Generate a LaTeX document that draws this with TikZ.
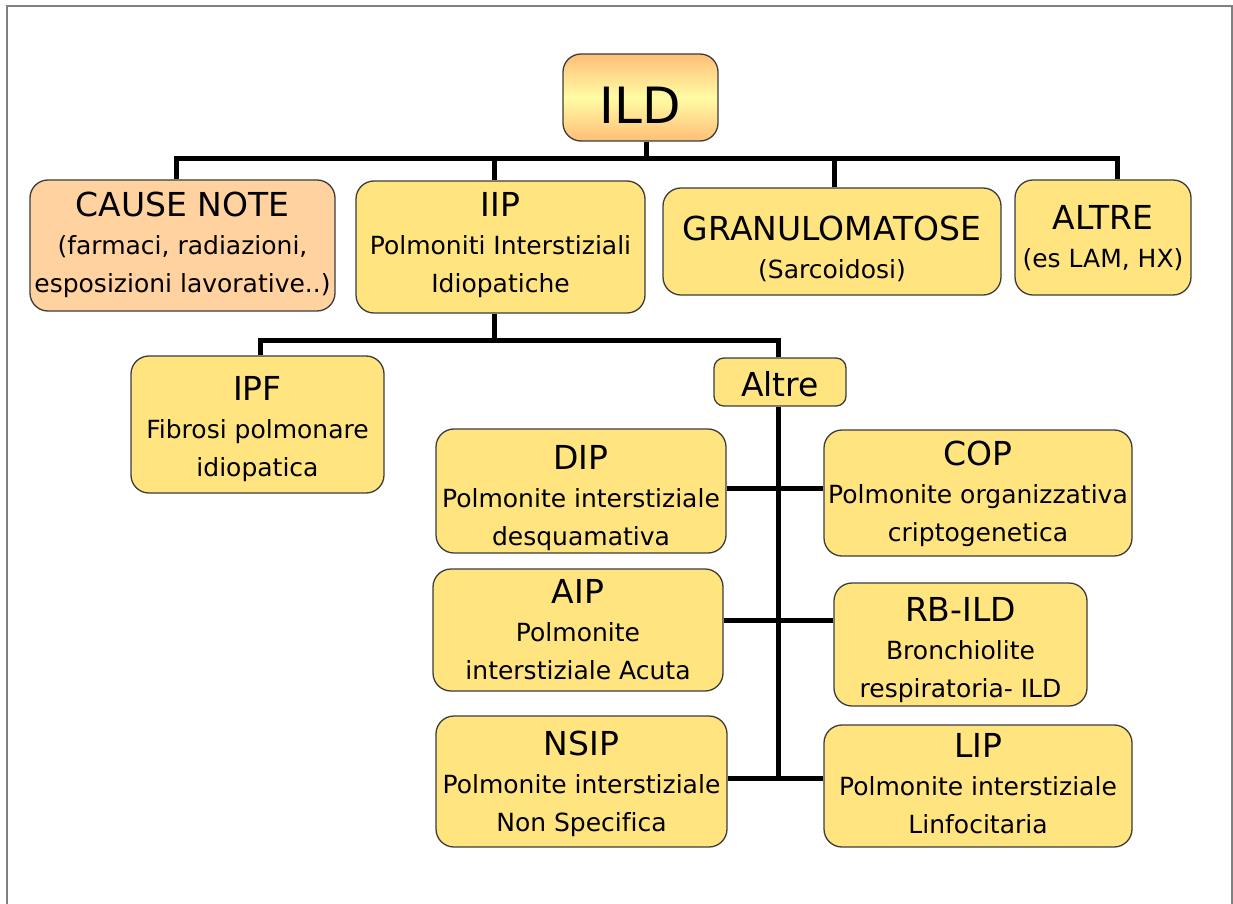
\documentclass[tikz,border=0pt]{standalone}
\usepackage{fontspec}
\setmainfont{DejaVu Sans}[Ligatures=NoCommon]
\definecolor{yel}{RGB}{255,228,128}
\definecolor{peach}{RGB}{255,210,160}
\definecolor{ildorange}{RGB}{255,190,120}
\definecolor{ildyellow}{RGB}{255,252,165}
\definecolor{boxline}{RGB}{60,60,60}
\definecolor{framegray}{RGB}{128,128,128}
\newcommand\boxtitle[1]{{\fontsize{33}{38}\selectfont #1}}
\newcommand\bxt[2]{\raisebox{-#1pt}[\height][\depth]{\fontsize{25}{38}\selectfont\begin{tabular}{@{}c@{}}#2\end{tabular}}}
\begin{document}
\begin{tikzpicture}[x=1pt,y=-1pt,
  box/.style={draw=boxline, line width=1.3pt, rounded corners=18pt, fill=yel, inner sep=0pt},
  conn/.style={line width=5pt, black},
  framestyle/.style={draw=framegray, line width=2pt}]
\useasboundingbox (0,0) rectangle (1233,904);
\draw[framestyle] (7,904) -- (7,6) -- (1232,6) -- (1232,904);

% top level
\node[box, top color=ildorange, bottom color=ildorange, middle color=ildyellow,
      minimum width=155pt, minimum height=87pt, font=\fontsize{50}{50}\selectfont]
      (ild) at (640.5,97.5) {\raisebox{-8pt}[\height][\depth]{ILD}};
\node[box, fill=peach, minimum width=305pt, minimum height=131pt] (cause) at (182.5,245.5)
  {\bxt{1}{\boxtitle{CAUSE NOTE}\\(farmaci, radiazioni,\\esposizioni lavorative..)}};
\node[box, minimum width=289pt, minimum height=132pt] (iip) at (500.5,247)
  {\bxt{0}{\boxtitle{IIP}\\Polmoniti Interstiziali\\Idiopatiche}};
\node[box, minimum width=338pt, minimum height=107pt] (gran) at (832,241.5)
  {\bxt{10}{\boxtitle{GRANULOMATOSE}\\(Sarcoidosi)}};
\node[box, minimum width=176pt, minimum height=115pt] (altre) at (1103,237.5)
  {\bxt{3}{\boxtitle{ALTRE}\\(es LAM, HX)}};

% second level
\node[box, minimum width=253pt, minimum height=137pt] (ipf) at (257.5,424.5)
  {\bxt{6}{\boxtitle{IPF}\\Fibrosi polmonare\\idiopatica}};
\node[box, rounded corners=10pt, minimum width=132pt, minimum height=48pt, font=\fontsize{33}{38}\selectfont]
  (altreb) at (780,382) {\raisebox{-2pt}[\height][\depth]{Altre}};

% third level
\node[box, minimum width=290pt, minimum height=124pt] (dip) at (581,491)
  {\bxt{9}{\boxtitle{DIP}\\Polmonite interstiziale\\desquamativa}};
\node[box, minimum width=308pt, minimum height=126pt] (cop) at (978,493)
  {\bxt{3}{\boxtitle{COP}\\Polmonite organizzativa\\criptogenetica}};
\node[box, minimum width=290pt, minimum height=122pt] (aip) at (578,630)
  {\bxt{4}{\boxtitle{AIP}\\Polmonite\\interstiziale Acuta}};
\node[box, minimum width=253pt, minimum height=123pt] (rbild) at (960.5,644.5)
  {\bxt{7}{\boxtitle{RB-ILD}\\Bronchiolite\\respiratoria- ILD}};
\node[box, minimum width=291pt, minimum height=131pt] (nsip) at (581.5,781.5)
  {\bxt{4}{\boxtitle{NSIP}\\Polmonite interstiziale\\Non Specifica}};
\node[box, minimum width=308pt, minimum height=122pt] (lip) at (978,786)
  {\bxt{2}{\boxtitle{LIP}\\Polmonite interstiziale\\Linfocitaria}};

% connectors
\coordinate (bus) at (646,159);
\coordinate (bus2) at (494,340);
\coordinate (spineEnd) at (778,778);
\draw[conn] ([xshift=5.5pt]ild.south) |- (bus);
\draw[conn] ([xshift=-6.5pt]cause.north) |- (bus);
\draw[conn] ([xshift=-6.5pt]iip.north) |- (bus);
\draw[conn] ([xshift=2pt]gran.north) |- (bus);
\draw[conn] ([xshift=14pt]altre.north) |- (bus);
\draw[conn] ([xshift=-6.5pt]iip.south) |- (bus2);
\draw[conn] ([xshift=2.5pt]ipf.north) |- (bus2);
\draw[conn] ([xshift=-2pt]altreb.north) |- (bus2);
\draw[conn] ([xshift=-2pt]altreb.south) -- (spineEnd);
\draw[conn] ([yshift=3pt]dip.east) -- ([yshift=5pt]cop.west);
\draw[conn] ([yshift=10pt]aip.east) -- ([yshift=24.5pt]rbild.west);
\draw[conn] ([yshift=3.5pt]nsip.east) -- ([yshift=8pt]lip.west);
\end{tikzpicture}
\end{document}
